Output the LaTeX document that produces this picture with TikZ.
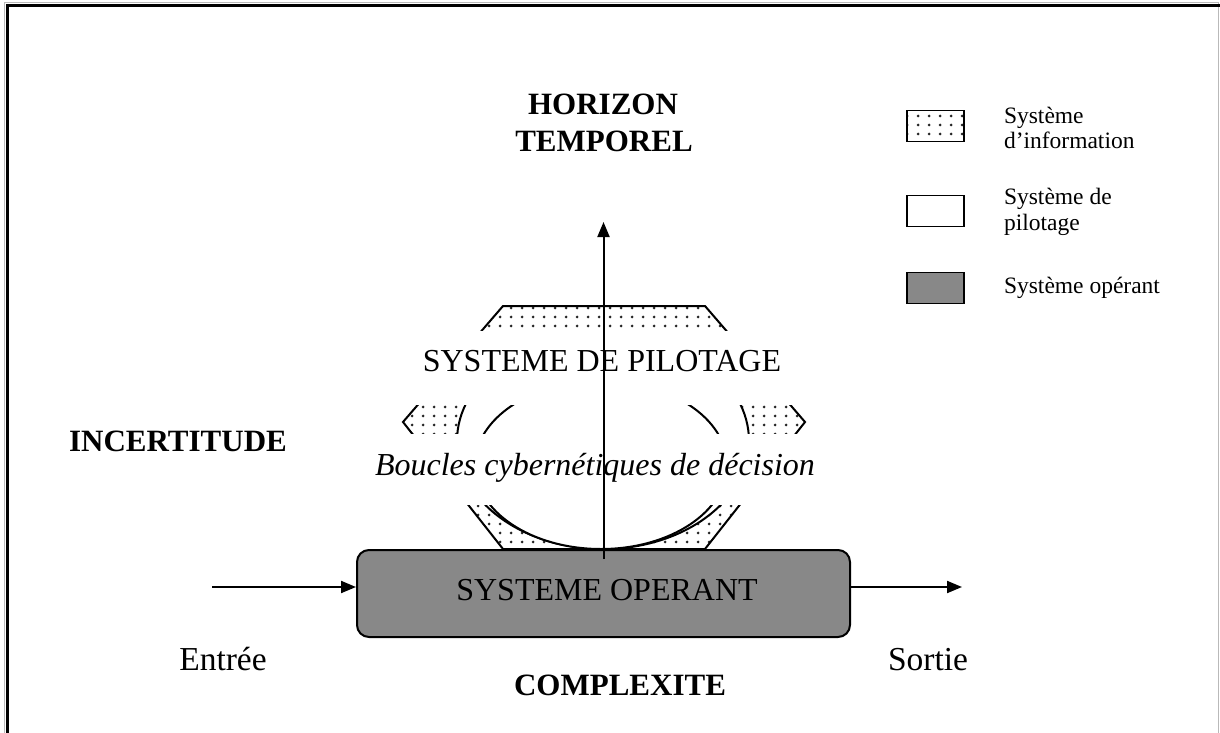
\documentclass[tikz,border=0pt]{standalone}
\usepackage{fontspec}
\setmainfont{Liberation Serif}
\usetikzlibrary{patterns.meta,arrows.meta}

% sparse dot screen for the information system
\tikzdeclarepattern{
  name=infodots,
  type=colored,
  bottom left={(0pt,0pt)},
  top right={(11pt,8.5pt)},
  tile size={(11pt,8.5pt)},
  code={\fill[black!85] (5.5pt,4.25pt) circle (1.6pt);}
}

\definecolor{opgray}{HTML}{888888}

\begin{document}
\begin{tikzpicture}[x=1pt,y=-1pt,
  line width=2pt,
  big/.style={font=\fontsize{32}{36}\selectfont},
  side/.style={font=\fontsize{33.5}{38}\selectfont},
  bigbold/.style={font=\fontsize{31}{37}\selectfont\bfseries},
  legtext/.style={font=\fontsize{23.5}{25.5}\selectfont, align=left, anchor=west, inner sep=0pt},
  maskbox/.style={fill=white, draw=none, inner sep=0pt},
  opbox/.style={draw, fill=opgray, rounded corners=12pt, inner sep=0pt,
                minimum width=493pt, minimum height=87pt},
  legbox/.style={draw, line width=1.6pt, inner sep=0pt, minimum width=57pt, minimum height=31pt},
  flow/.style={-{Triangle[length=15pt,width=12pt]}}
]
\useasboundingbox (0,0) rectangle (1220,733);

% frame
\draw[gray!55, line width=0.8pt] (4,740) -- (4,2) -- (1218.5,2) -- (1218.5,740);
\draw[line width=3pt] (7.5,740) -- (7.5,5.5) -- (1220,5.5);

% information system (dotted hexagon)
\draw[pattern=infodots] (503,306) -- (705,306) -- (805,422) -- (705,549)
      -- (503,549) -- (403,422) -- cycle;

% steering system and cybernetic loops
\draw[fill=white] (603,441) ellipse [x radius=146pt, y radius=108pt];
\draw[fill=white] (601,465) ellipse [x radius=126pt, y radius=84pt];

% text bands
\node[maskbox, minimum width=395pt, minimum height=74pt] (pilotband) at (603,368) {};
\node[maskbox, minimum width=448pt, minimum height=71pt] (loopband) at (595,469.5) {};
\node[big, anchor=base] (pilot) at (602,371) {SYSTEME DE PILOTAGE};
\node[big, anchor=base] (loops) at (595,475) {\itshape Boucles cybernétiques de décision};

% operating system
\node[opbox] (op) at (603.5,593.5) {};
\node[big, anchor=base] (optext) at (607,600) {SYSTEME OPERANT};

% time horizon axis
\coordinate (horizon) at (603.5,222);
\draw[flow] ([yshift=-10pt]op.north) -- (horizon);

\node[bigbold, anchor=base] (horizontxt) at (603,114) {HORIZON};
\node[bigbold, anchor=base] (tempotxt) at (604,151) {TEMPOREL};
\node[bigbold, anchor=base] (incert) at (178,451) {INCERTITUDE};
\node[bigbold, anchor=base] (complex) at (620,695) {COMPLEXITE};

% input and output
\coordinate (inA) at (212,587);
\coordinate (outA) at (962,587);
\draw[flow] (inA) -- (inA -| op.west);
\draw[flow] (op.east |- outA) -- (outA);
\node[side, anchor=base] (entree) at (223,670) {Entrée};
\node[side, anchor=base] (sortie) at (928,670) {Sortie};

% legend
\node[legbox, pattern=infodots] (lg1) at (935.5,126) {};
\node[legbox] (lg2) at (935.5,211) {};
\node[legbox, fill=opgray] (lg3) at (935.5,288) {};
\node[legtext] (lt1) at (1003,128) {Système\\d’information};
\node[legtext] (lt2) at (1003,212) {Système de\\pilotage};
\node[legtext] (lt3) at (1003,288) {Système opérant};
\end{tikzpicture}
\end{document}
